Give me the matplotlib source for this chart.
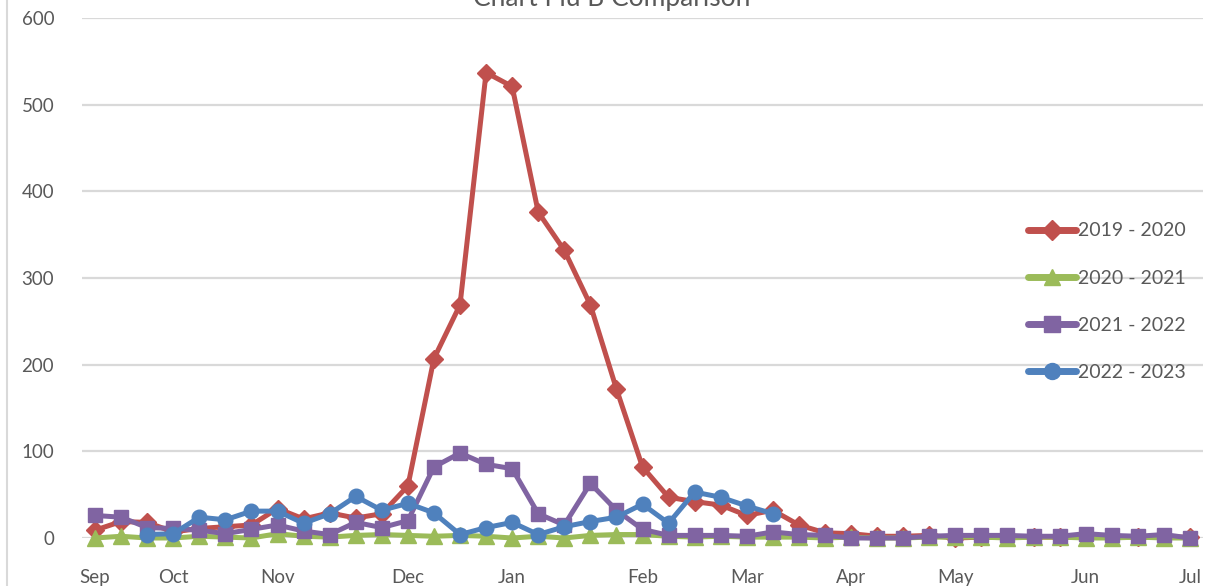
import numpy as np
import matplotlib.pyplot as plt
from matplotlib.lines import Line2D

plt.rcParams['font.family'] = ['Lato', 'DejaVu Sans']

# weekly counts, index 0 = first week of Sep, 42 = first week of Jul
s2019 = [9, 19, 18, 7, 11, 13, 15, 34, 22, 29, 23, 28, 60, 207, 269, 537, 521, 376, 332, 269,
         172, 82, 47, 42, 38, 26, 32, 15, 6, 5, 2, 2, 3, 0, 1, 1, 1, 1, 1, 1, 1, 1, 1]
s2020 = [0, 2, 0, 0, 2, 1, 0, 5, 2, 1, 3, 4, 3, 2, 3, 2, 0, 2, 0, 3,
         4, 4, 2, 1, 2, 1, 1, 1, 0, 1, 0, 0, 1, 1, 1, 0, 1, 1, 0, 0, 1, 0, 0]
s2021 = [26, 24, 12, 11, 9, 5, 10, 15, 8, 4, 18, 12, 20, 82, 98, 85, 80, 28, 15, 63,
         32, 10, 3, 3, 3, 2, 7, 4, 3, 0, 0, 0, 2, 3, 3, 3, 2, 2, 5, 3, 2, 4, 0]
s2022 = [None, None, 4, 5, 24, 21, 31, 31, 17, 28, 48, 32, 40, 29, 4, 12, 18, 4, 13, 19,
         24, 39, 17, 53, 47, 37, 28] + [None] * 16

month_labels = ['Sep', 'Oct', 'Nov', 'Dec', 'Jan', 'Feb', 'Mar', 'Apr', 'May', 'Jun', 'Jul']
month_pos = [0, 3, 7, 12, 16, 21, 25, 29, 33, 38, 42]

series = [
    ('2019 - 2020', s2019, '#C0504D', 'D', 9),
    ('2020 - 2021', s2020, '#9BBB59', '^', 11),
    ('2021 - 2022', s2021, '#8064A2', 's', 10),
    ('2022 - 2023', s2022, '#4F81BD', 'o', 10.5),
]

fig = plt.figure(figsize=(12.17, 5.86), dpi=100)
ax = fig.add_axes([82 / 1217, 48 / 586, 1121 / 1217, 520 / 586])

x = np.arange(43)
handles = []
for name, vals, col, mk, ms in series:
    y = np.array([np.nan if v is None else v for v in vals], dtype=float)
    ax.plot(x, y, color=col, lw=3.6, marker=mk, markersize=ms, markeredgecolor=col,
            markerfacecolor=col, solid_capstyle='round', solid_joinstyle='round',
            zorder=3, clip_on=False)
    handles.append(Line2D([], [], color=col, lw=5, marker=mk, markersize=ms + 1,
                          solid_capstyle='round', label=name))

ax.set_xlim(-0.5, 42.5)
ax.set_ylim(0, 600)
ax.set_yticks(range(0, 601, 100))
ax.set_xticks(month_pos)
ax.set_xticklabels(month_labels)
ax.grid(axis='y', color='#d9d9d9', lw=1.6, zorder=0)
for sp in ax.spines.values():
    sp.set_visible(False)
ax.tick_params(axis='both', length=0, labelsize=13.5, colors='#595959')
ax.tick_params(axis='y', pad=20)
ax.tick_params(axis='x', pad=22)

leg = ax.legend(handles=handles, loc='upper left', frameon=False, fontsize=14,
                labelspacing=1.55, handlelength=2.5, handletextpad=0.1,
                labelcolor='#595959')
leg.set_bbox_to_anchor((1010 / 1217, 1 - 205 / 586), transform=fig.transFigure)

fig.text(0.503, 1 - 6 / 586, 'Chart Flu B Comparison', ha='center', va='baseline',
         fontsize=19, color='#595959')
fig.add_artist(Line2D([7 / 1217, 7 / 1217], [0, 1], transform=fig.transFigure,
                      color='#d9d9d9', lw=1.5))

fig.savefig('out.png', dpi=100)
